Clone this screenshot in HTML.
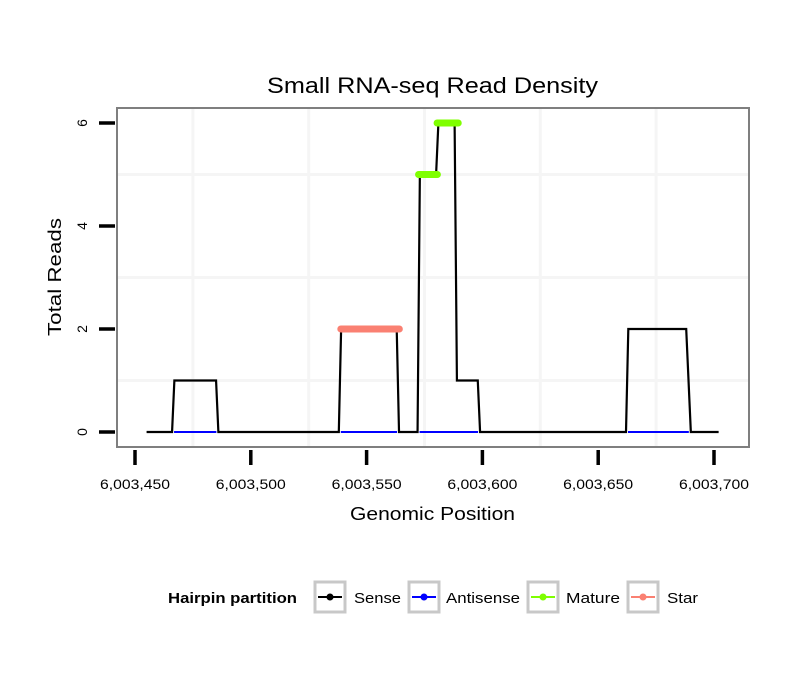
<!DOCTYPE html>
<html><head><meta charset="utf-8"><style>
body{margin:0;background:#fff;font-family:"Liberation Sans",sans-serif}
</style></head><body>
<svg width="810" height="690" xmlns="http://www.w3.org/2000/svg" font-family="Liberation Sans, sans-serif">
<text x="267" y="93" font-size="22" textLength="331" lengthAdjust="spacingAndGlyphs">Small RNA-seq Read Density</text>
<g id="grid"></g>
<g id="marks"></g>
<rect x="117" y="108" width="632" height="339" fill="none" stroke="#7f7f7f" stroke-width="2"/>
<g id="axes"></g>
<text x="350" y="520" font-size="18" textLength="165" lengthAdjust="spacingAndGlyphs">Genomic Position</text>
<text transform="translate(61,336) rotate(-90)" font-size="18" textLength="118" lengthAdjust="spacingAndGlyphs">Total Reads</text>
<g font-size="15">
<text x="168" y="603" font-weight="bold" textLength="129" lengthAdjust="spacingAndGlyphs">Hairpin partition</text>
<g><rect x="315" y="582" width="30" height="30" fill="#fff" stroke="#c8c8c8" stroke-width="3"/><line x1="318" y1="597" x2="342" y2="597" stroke="#000" stroke-width="2"/><circle cx="330" cy="597" r="3.5" fill="#000"/><text x="354" y="603" textLength="47" lengthAdjust="spacingAndGlyphs">Sense</text></g>
<g><rect x="409" y="582" width="30" height="30" fill="#fff" stroke="#c8c8c8" stroke-width="3"/><line x1="412" y1="597" x2="436" y2="597" stroke="#00f" stroke-width="2"/><circle cx="424" cy="597" r="3.5" fill="#00f"/><text x="446" y="603" textLength="74" lengthAdjust="spacingAndGlyphs">Antisense</text></g>
<g><rect x="528" y="582" width="30" height="30" fill="#fff" stroke="#c8c8c8" stroke-width="3"/><line x1="531" y1="597" x2="555" y2="597" stroke="#7fff00" stroke-width="2"/><circle cx="543" cy="597" r="3.5" fill="#7fff00"/><text x="566" y="603" textLength="54" lengthAdjust="spacingAndGlyphs">Mature</text></g>
<g><rect x="628" y="582" width="30" height="30" fill="#fff" stroke="#c8c8c8" stroke-width="3"/><line x1="631" y1="597" x2="655" y2="597" stroke="#fa8072" stroke-width="2"/><circle cx="643" cy="597" r="3.5" fill="#fa8072"/><text x="667" y="603" textLength="31" lengthAdjust="spacingAndGlyphs">Star</text></g>
</g>
</svg>
<script>
const xTicks=[6003450,6003500,6003550,6003600,6003650,6003700];
const yTicks=[0,2,4,6];
const sensePos=[6003455,6003466,6003467,6003485,6003486,6003538,6003539,6003563,6003564,6003572,6003573,6003580,6003581,6003588,6003589,6003598,6003599,6003662,6003663,6003688,6003690,6003702];
const senseVal=[0,0,1,1,0,0,2,2,0,0,5,5,6,6,1,1,0,0,2,2,0,0];
const antisenseSegs=[[6003466,6003486],[6003538,6003564],[6003572,6003599],[6003662,6003690]];
const matureSegs=[[6003572,6003581,5],[6003580,6003590,6]];
const starSegs=[[6003538,6003565,2]];
const NS="http://www.w3.org/2000/svg";
const xs=v=>135+(v-6003450)*579/250;
const ys=v=>432-v*51.5;
function mk(t,a,p){const e=document.createElementNS(NS,t);for(const k in a)e.setAttribute(k,a[k]);p.appendChild(e);return e;}
const grid=document.getElementById('grid'),marks=document.getElementById('marks'),axes=document.getElementById('axes');
for(let v=6003425;v<=6003725;v+=50){const x=xs(v);if(x<118||x>748)continue;const l=mk('line',{x1:x,x2:x,y1:109,y2:446,stroke:'#f5f5f5','stroke-width':3},grid);

}
for(let v=-1;v<=7;v+=2){const y=ys(v);if(y<109||y>446)continue;const l=mk('line',{x1:118,x2:748,y1:y,y2:y,stroke:'#f5f5f5','stroke-width':3},grid);

}
xTicks.forEach(v=>{const x=xs(v);const t=mk('line',{x1:x,x2:x,y1:450,y2:465,stroke:'#000','stroke-width':3.5},axes);


const tx=mk('text',{x:x,y:489,'font-size':14,'text-anchor':'middle',textLength:70,lengthAdjust:'spacingAndGlyphs'},axes);tx.textContent=v.toLocaleString('en-US');

});
yTicks.forEach(v=>{const y=ys(v);const t=mk('line',{x1:99,x2:115,y1:y,y2:y,stroke:'#000','stroke-width':3.5},axes);


const tx=mk('text',{transform:`translate(87,${y}) rotate(-90)`,'font-size':14,'text-anchor':'middle'},axes);tx.textContent=v;

});
const pts=sensePos.map((p,i)=>xs(p)+','+ys(senseVal[i])).join(' ');
const pl=mk('polyline',{points:pts,fill:'none',stroke:'#000','stroke-width':2.2},marks);


antisenseSegs.forEach(s=>{const l=mk('line',{x1:xs(s[0])+2,x2:xs(s[1])-2,y1:ys(0),y2:ys(0),stroke:'#00f','stroke-width':2},marks);

});
starSegs.forEach(s=>{const l=mk('line',{x1:xs(s[0])+2,x2:xs(s[1])-2,y1:ys(s[2]),y2:ys(s[2]),stroke:'#fa8072','stroke-width':7,'stroke-linecap':'round'},marks);

});
matureSegs.forEach(s=>{const l=mk('line',{x1:xs(s[0])+1,x2:xs(s[1])-1,y1:ys(s[2]),y2:ys(s[2]),stroke:'#7fff00','stroke-width':7,'stroke-linecap':'round'},marks);

});
</script>
</body></html>
